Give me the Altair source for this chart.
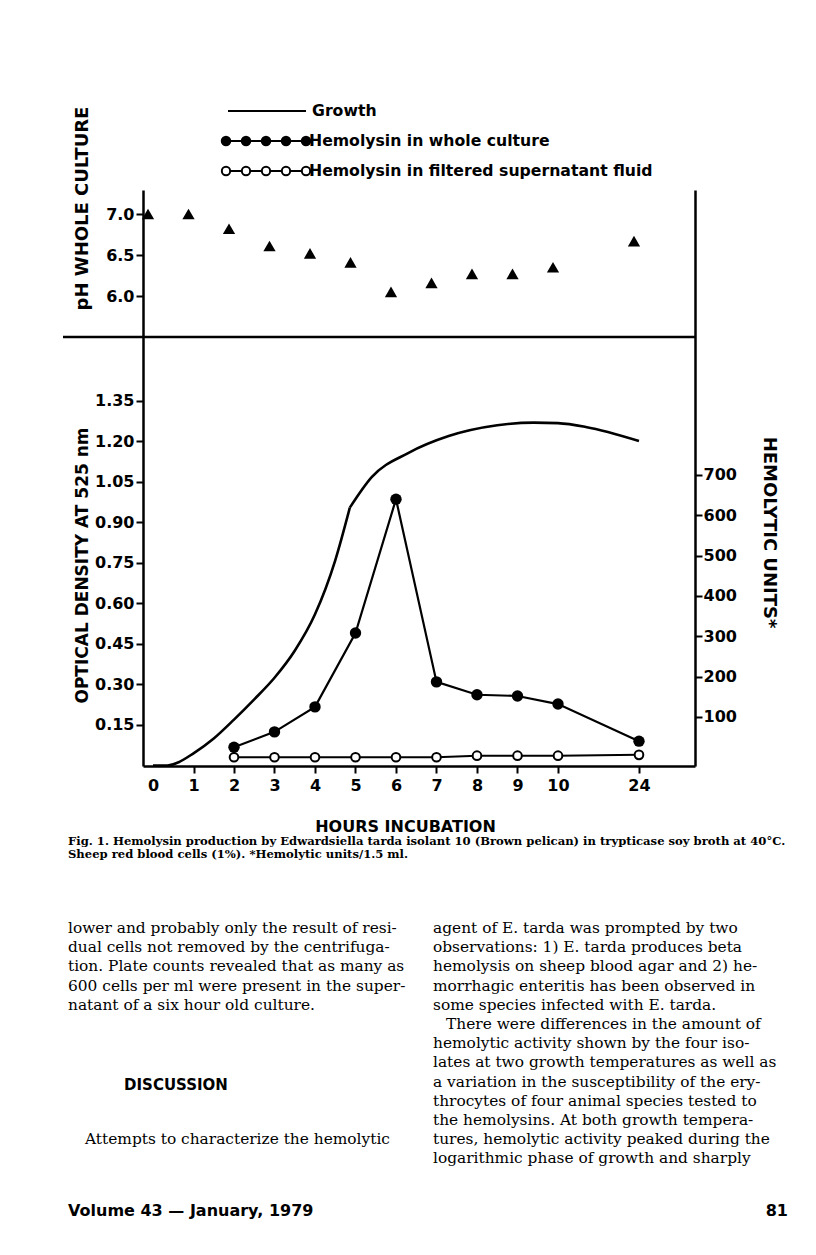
import altair as alt
import pandas as pd

# ---------------- data ----------------
ph_hours = [0, 1, 2, 3, 4, 5, 6, 7, 8, 9, 10, 24]
ph_values = [7.0, 7.0, 6.82, 6.61, 6.52, 6.41, 6.05, 6.16, 6.27, 6.27, 6.35, 6.67]

hemo_hours = [2, 3, 4, 5, 6, 7, 8, 9, 10, 24]
hemo_whole = [25, 63, 125, 308, 640, 187, 155, 152, 132, 40]
hemo_filtered = [0, 0, 0, 0, 0, 0, 4, 4, 4, 6]

# growth curve: rising part up to the bend, then the plateau part
growth_rise_hours = [0, 0.35, 0.6, 1.0, 1.5, 2.0, 2.5, 3.0, 3.5, 4.0, 4.5, 4.86]
growth_rise_od = [0.0, 0.0, 0.01, 0.045, 0.10, 0.17, 0.245, 0.325, 0.425, 0.56, 0.76, 0.955]
growth_plateau_hours = [4.86, 5.4, 6.3, 7.3, 8.5, 9.4, 10.0, 14.8, 24]
growth_plateau_od = [0.955, 1.068, 1.157, 1.22, 1.26, 1.27, 1.268, 1.254, 1.202]

x_tick_hours = [0, 1, 2, 3, 4, 5, 6, 7, 8, 9, 10, 24]
od_ticks = [0.15, 0.30, 0.45, 0.60, 0.75, 0.90, 1.05, 1.20, 1.35]
hu_ticks = [100, 200, 300, 400, 500, 600, 700]
ph_ticks = [6.0, 6.5, 7.0]

legend_labels = ["Growth", "Hemolysin in whole culture",
                 "Hemolysin in filtered supernatant fluid"]
caption_lines = [
    "Fig. 1. Hemolysin production by Edwardsiella tarda isolant 10 (Brown pelican) in trypticase soy broth at 40°C.",
    "Sheep red blood cells (1%). *Hemolytic units/1.5 ml.",
]
left_col = [
    "lower and probably only the result of resi-",
    "dual cells not removed by the centrifuga-",
    "tion. Plate counts revealed that as many as",
    "600 cells per ml were present in the super-",
    "natant of a six hour old culture.",
]
right_col = [
    "agent of E. tarda was prompted by two",
    "observations: 1) E. tarda produces beta",
    "hemolysis on sheep blood agar and 2) he-",
    "morrhagic enteritis has been observed in",
    "some species infected with E. tarda.",
    "There were differences in the amount of",
    "hemolytic activity shown by the four iso-",
    "lates at two growth temperatures as well as",
    "a variation in the susceptibility of the ery-",
    "throcytes of four animal species tested to",
    "the hemolysins. At both growth tempera-",
    "tures, hemolytic activity peaked during the",
    "logarithmic phase of growth and sharply",
]


def to_pos(h):
    return h if h <= 10 else 10 + (h - 10) / 7


POS_EXPR = "datum.hour <= 10 ? datum.hour : 10 + (datum.hour - 10) / 7"

SANS = "DejaVu Sans"
SERIF = "DejaVu Serif"

axis_style = dict(
    domainColor="black", domainWidth=2.5, tickColor="black", tickWidth=2,
    tickSize=7, labelFont=SANS, labelFontWeight="bold", labelFontSize=16,
    labelColor="black", grid=False, titleFont=SANS, titleFontWeight="bold",
    titleColor="black",
)

X = alt.X(
    "pos:Q",
    scale=alt.Scale(domain=[-0.247, 13.383], nice=False, zero=False),
    axis=alt.Axis(
        values=[to_pos(h) for h in x_tick_hours],
        labelExpr="datum.value == 12 ? '24' : datum.label",
        tickOpacity={"condition": {"test": "datum.value == 0", "value": 0}, "value": 1},
        labelPadding=4,
        title="HOURS INCUBATION", titleX=262, titleY=60, titleBaseline="middle",
        titleAlign="center", titleAnchor="start", titleFontSize=16,
        **axis_style,
    ),
)

Y_od = alt.Y(
    "od:Q",
    scale=alt.Scale(domain=[-0.002, 2.1315], nice=False, zero=False),
    axis=alt.Axis(
        orient="left", values=od_ticks, format=".2f", labelPadding=2,
        title="OPTICAL  DENSITY  AT  525  nm", titleX=-61, titleY=375,
        titleAngle=270, titleAlign="center", titleBaseline="middle",
        titleAnchor="start", titleFontSize=17,
        **axis_style,
    ),
)

Y_hu = alt.Y(
    "units:Q",
    scale=alt.Scale(domain=[-21.6, 1406.6], nice=False, zero=False),
    axis=alt.Axis(
        orient="right", values=hu_ticks, format="d", labelPadding=1,
        title="HEMOLYTIC  UNITS*", titleX=73, titleY=342, titleAngle=90,
        titleAlign="center", titleBaseline="middle", titleAnchor="start",
        titleFontSize=18,
        **axis_style,
    ),
)

Y_ph = alt.Y(
    "ph:Q",
    scale=alt.Scale(domain=[0.268, 7.293], nice=False, zero=False),
    axis=alt.Axis(
        orient="left", values=ph_ticks, format=".1f", labelPadding=2,
        domain=False,
        title="pH  WHOLE  CULTURE", titleX=-61, titleY=18, titleAngle=270,
        titleAlign="center", titleBaseline="middle", titleAnchor="start",
        titleFontSize=18,
        **axis_style,
    ),
)

rise_df = pd.DataFrame({"hour": growth_rise_hours, "od": growth_rise_od})
plat_df = pd.DataFrame({"hour": growth_plateau_hours, "od": growth_plateau_od})
whole_df = pd.DataFrame({"hour": hemo_hours, "units": hemo_whole})
filt_df = pd.DataFrame({"hour": hemo_hours, "units": hemo_filtered})
ph_df = pd.DataFrame({"hour": ph_hours, "ph": ph_values})

growth_rise = (
    alt.Chart(rise_df)
    .mark_line(color="black", strokeWidth=2.6, interpolate="monotone")
    .transform_calculate(pos=POS_EXPR)
    .encode(x=X, y=Y_od)
)
growth_plat = (
    alt.Chart(plat_df)
    .mark_line(color="black", strokeWidth=2.6, interpolate="monotone")
    .transform_calculate(pos=POS_EXPR)
    .encode(x=X, y=Y_od)
)
growth = alt.layer(growth_rise, growth_plat)

whole_line = (
    alt.Chart(whole_df).mark_line(color="black", strokeWidth=2.2)
    .transform_calculate(pos=POS_EXPR).encode(x=X, y=Y_hu)
)
whole_pts = (
    alt.Chart(whole_df).mark_circle(color="black", size=130, opacity=1)
    .transform_calculate(pos=POS_EXPR).encode(x=X, y=Y_hu)
)
filt_line = (
    alt.Chart(filt_df).mark_line(color="black", strokeWidth=2)
    .transform_calculate(pos=POS_EXPR).encode(x=X, y=Y_hu)
)
filt_pts = (
    alt.Chart(filt_df)
    .mark_point(shape="circle", filled=True, fill="white", stroke="black",
                strokeWidth=2, size=75, opacity=1)
    .transform_calculate(pos=POS_EXPR).encode(x=X, y=Y_hu)
)
hemo = alt.layer(whole_line, filt_line, whole_pts, filt_pts)

ph = (
    alt.Chart(ph_df)
    .mark_point(shape="triangle-up", filled=True, color="black", size=150,
                opacity=1, xOffset=-5)
    .transform_calculate(pos=POS_EXPR)
    .encode(x=X, y=Y_ph)
)

dummy = pd.DataFrame({"d": [0]})


def txt(s, x, y, size, font=SANS, weight="bold", align="left", style="normal"):
    return (
        alt.Chart(dummy)
        .mark_text(text=s, font=font, fontSize=size, fontWeight=weight,
                   align=align, baseline="middle", color="black", fontStyle=style)
        .encode(x=alt.value(x), y=alt.value(y))
    )


def hrule(x1, x2, y, w=2):
    return (
        alt.Chart(dummy).mark_rule(color="black", strokeWidth=w)
        .encode(x=alt.value(x1), x2=alt.value(x2), y=alt.value(y))
    )


def dot(x, y, filled):
    if filled:
        m = alt.Chart(dummy).mark_circle(color="black", size=110, opacity=1)
    else:
        m = alt.Chart(dummy).mark_point(shape="circle", filled=True, fill="white",
                                        stroke="black", strokeWidth=2, size=70,
                                        opacity=1)
    return m.encode(x=alt.value(x), y=alt.value(y))


decor = []
# separator between pH panel and main panel
decor.append(hrule(-80, 552, 147, 2.5))
# legend
leg_x = [83, 103, 123, 143, 163]
decor.append(hrule(85, 163, -79, 2))
decor.append(txt(legend_labels[0], 169, -79, 15.7))
decor.append(hrule(83, 163, -49, 2))
decor += [dot(x, -49, True) for x in leg_x]
decor.append(txt(legend_labels[1], 166, -49, 15.7))
decor.append(hrule(83, 163, -19, 2))
decor += [dot(x, -19, False) for x in leg_x]
decor.append(txt(legend_labels[2], 166, -19, 15.7))

# caption
for i, line in enumerate(caption_lines):
    decor.append(txt(line, -75, 652 + i * 13, 11.6, font=SERIF))

# body text
BODY = 15.4
for i, line in enumerate(left_col):
    decor.append(txt(line, -75, 738 + i * 19.2, BODY, font=SERIF, weight="normal"))
decor.append(txt("DISCUSSION", 33, 895, 15, align="center"))
decor.append(txt("Attempts to characterize the hemolytic", -58, 949, BODY,
                 font=SERIF, weight="normal"))
for i, line in enumerate(right_col):
    xx = 303 if i == 5 else 290
    decor.append(txt(line, xx, 738 + i * 19.2, BODY, font=SERIF, weight="normal"))

# footer
decor.append(txt("Volume 43 — January, 1979", -75, 1021, 16))
decor.append(txt("81", 645, 1021, 16, align="right"))

chart = (
    alt.layer(growth, hemo, ph, *decor)
    .resolve_scale(y="independent")
    .resolve_axis(y="independent")
    .properties(
        width=552, height=576,
        autosize=alt.AutoSizeParams(type="none"),
        padding={"left": 135, "top": 182, "right": 113, "bottom": 481},
        background="white",
    )
    .configure_view(stroke=None)
)

chart.save("out.html", embed_options={"renderer": "svg", "actions": False})
